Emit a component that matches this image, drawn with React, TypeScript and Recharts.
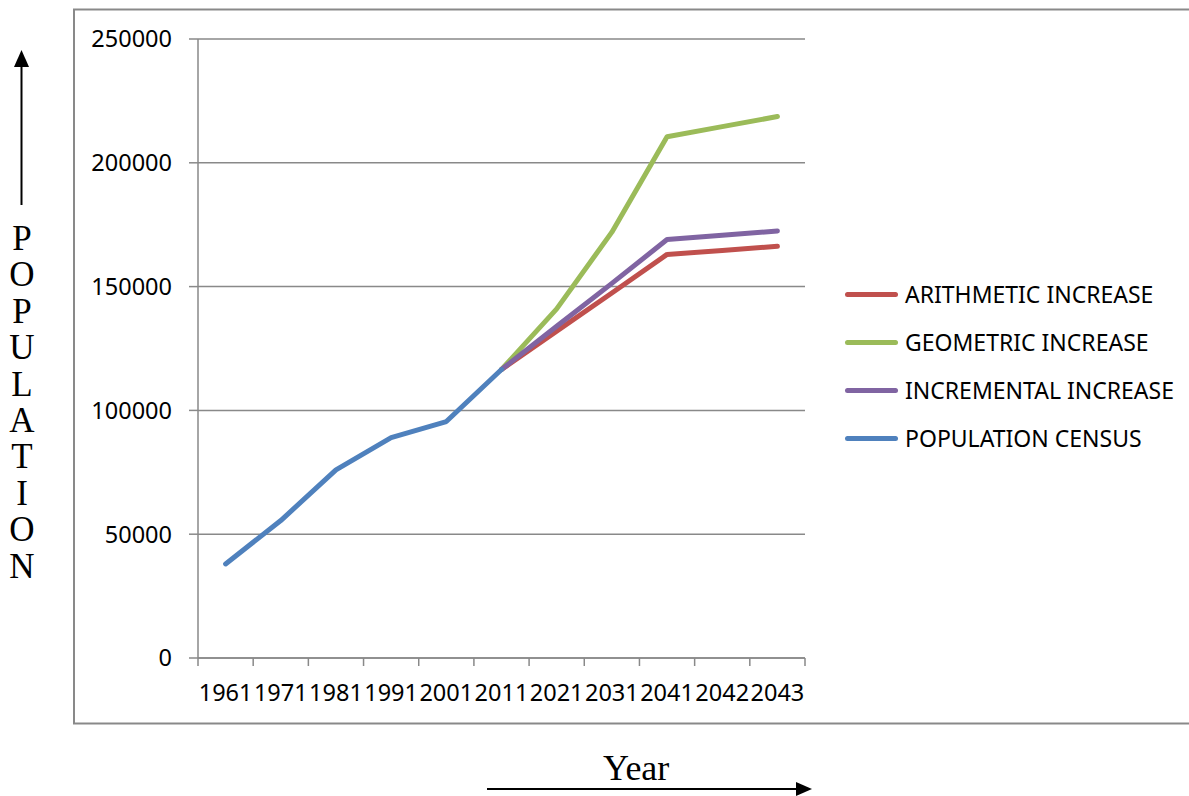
import React from 'react';
import { LineChart, Line, XAxis, YAxis, CartesianGrid, Legend } from 'recharts';

// Population forecast data
const years = ['1961', '1971', '1981', '1991', '2001', '2011', '2021', '2031', '2041', '2042', '2043'];
const census = [38000, 55500, 76000, 89000, 95500, 116500, null, null, null, null, null];
const arithmetic = [null, null, null, null, null, 116500, 132000, 147400, 163000, 164600, 166300];
const geometric = [null, null, null, null, null, 116500, 141000, 172000, 210500, 214600, 218700];
const incremental = [null, null, null, null, null, 116500, 134000, 151300, 169000, 170700, 172500];
const yTicks = [0, 50000, 100000, 150000, 200000, 250000];

const series = [
  { key: 'arithmetic', name: 'ARITHMETIC INCREASE', color: '#C0504D' },
  { key: 'geometric', name: 'GEOMETRIC INCREASE', color: '#9BBB59' },
  { key: 'incremental', name: 'INCREMENTAL INCREASE', color: '#8064A2' },
  { key: 'census', name: 'POPULATION CENSUS', color: '#4F81BD' },
];

const data = years.map((year, i) => ({
  year,
  census: census[i],
  arithmetic: arithmetic[i],
  geometric: geometric[i],
  incremental: incremental[i],
}));

const W = 1189;
const H = 796;
const margin = { top: 39, right: 384, left: 0, bottom: 98 };
const Y_AXIS_W = 198;
const TICK = 8;
const TICK_GAP = 18;
const GRAY = '#898989';
const FONT = '"Noto Sans", sans-serif';
const SERIF = '"Liberation Serif", "Times New Roman", serif';

const YearTick = (props: any) => {
  const { x, y, payload, index, visibleTicksCount, width } = props;
  const plotW = typeof width === 'number' ? width : W - margin.right - Y_AXIS_W - margin.left;
  const half = plotW / (visibleTicksCount || years.length) / 2;
  const axisY = y - TICK - TICK_GAP;
  return (
    <g>
      <line x1={x - half} x2={x - half} y1={axisY} y2={axisY + TICK} stroke={GRAY} strokeWidth={1.5} />
      {index === visibleTicksCount - 1 && (
        <line x1={x + half} x2={x + half} y1={axisY} y2={axisY + TICK} stroke={GRAY} strokeWidth={1.5} />
      )}
      <text x={x} y={y} dy="0.71em" textAnchor="middle" fill="#000" fontSize={23.5} fontFamily={FONT}>
        {payload.value}
      </text>
    </g>
  );
};

const LegendBox = () => (
  <div style={{ fontFamily: FONT, fontSize: 23, color: '#000' }}>
    {series.map((s) => (
      <div key={s.key} style={{ display: 'flex', alignItems: 'center', height: 48 }}>
        <div style={{ width: 53, height: 5, borderRadius: 3, background: s.color, marginRight: 7 }} />
        <span style={{ whiteSpace: 'nowrap' }}>{s.name}</span>
      </div>
    ))}
  </div>
);

const letters = 'POPULATION'.split('');

export default function App() {
  return (
    <div style={{ position: 'absolute', left: 0, top: 0, width: W, height: H, background: '#fff', overflow: 'hidden' }}>
      <svg width={W} height={H} style={{ position: 'absolute', left: 0, top: 0 }}>
        <rect x={74} y={9.5} width={1200} height={714} fill="none" stroke={GRAY} strokeWidth={2} />
        {/* vertical arrow */}
        <line x1={21.5} y1={205} x2={21.5} y2={64} stroke="#000" strokeWidth={2} />
        <path d="M14,67 L21.5,50 L29,67 z" fill="#000" />
        {letters.map((ch, i) => (
          <text key={i} x={22} y={250 + i * 36.4} textAnchor="middle" fontFamily={SERIF} fontSize={35} fill="#000">
            {ch}
          </text>
        ))}
        <text x={603} y={780} fontFamily={SERIF} fontSize={36} fill="#000">Year</text>
        {/* horizontal arrow */}
        <line x1={487} y1={789} x2={798} y2={789} stroke="#000" strokeWidth={2} />
        <path d="M796,782 L812,789 L796,796 z" fill="#000" />
      </svg>
      <div style={{ position: 'absolute', left: 0, top: 0 }}>
        <LineChart width={W} height={H} data={data} margin={margin}>
          <CartesianGrid vertical={false} stroke={GRAY} strokeWidth={1.5} />
          <XAxis
            dataKey="year"
            scale="band"
            height={40}
            axisLine={{ stroke: GRAY, strokeWidth: 1.5 }}
            tickLine={false}
            tickSize={TICK}
            tickMargin={TICK_GAP}
            interval={0}
            tick={<YearTick />}
          />
          <YAxis
            width={Y_AXIS_W}
            domain={[0, 250000]}
            ticks={yTicks}
            interval={0}
            axisLine={{ stroke: GRAY, strokeWidth: 1.5 }}
            tickLine={{ stroke: GRAY, strokeWidth: 1.5 }}
            tickSize={9}
            tickMargin={17}
            tick={{ fill: '#000', fontSize: 23.5, fontFamily: FONT }}
          />
          <Legend
            layout="vertical"
            align="center"
            verticalAlign="middle"
            content={<LegendBox />}
            wrapperStyle={{ left: 845, top: 270, width: 344 }}
          />
          {series.map((s) => (
            <Line
              key={s.key}
              type="linear"
              dataKey={s.key}
              name={s.name}
              stroke={s.color}
              strokeWidth={5}
              strokeLinecap="round"
              strokeLinejoin="round"
              dot={false}
              activeDot={false}
              isAnimationActive={false}
            />
          ))}
        </LineChart>
      </div>
    </div>
  );
}
